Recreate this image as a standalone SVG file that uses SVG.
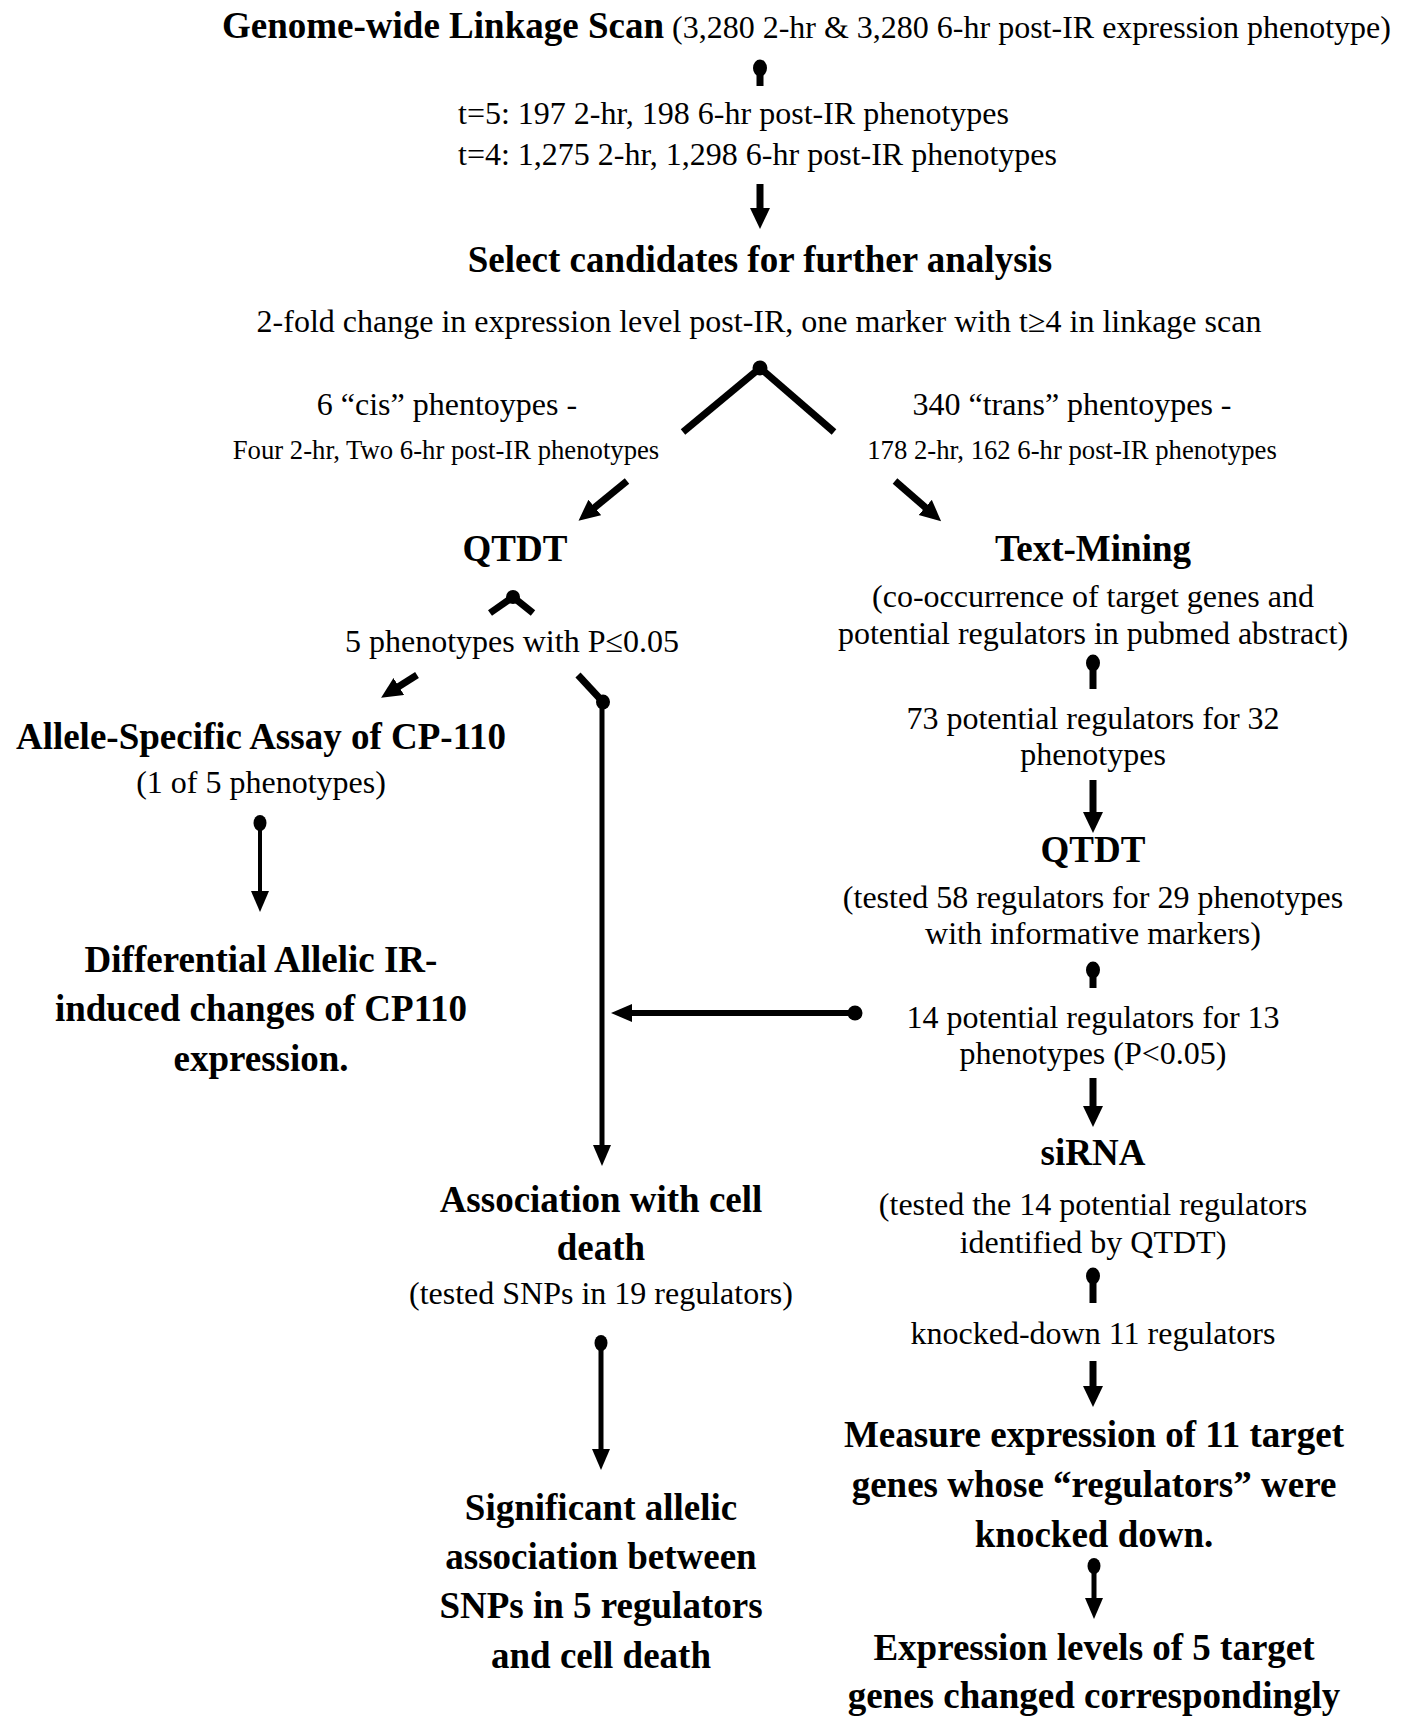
<svg xmlns="http://www.w3.org/2000/svg" width="1407" height="1716" viewBox="0 0 1407 1716">
<style>
text{font-family:"Liberation Serif","Times New Roman",serif;fill:#000}
.b{font-weight:bold;font-size:37px}
.n{font-size:32px}
.s{font-size:26.7px}
.c{text-anchor:middle}
.ln{stroke:#000;fill:none;stroke-linecap:butt}
.w7{stroke-width:7}
.w6{stroke-width:6}
.w5{stroke-width:5}
.w4{stroke-width:4}
.ball{fill:#000}
</style>
<defs>
<marker id="ah" markerUnits="userSpaceOnUse" markerWidth="22" markerHeight="22" refX="1" refY="10" orient="auto">
<path d="M0,0 L21,10 L0,20 z" fill="#000"/>
</marker>
<marker id="ahs" markerUnits="userSpaceOnUse" markerWidth="22" markerHeight="20" refX="1" refY="9" orient="auto">
<path d="M0,0 L21,9 L0,18 z" fill="#000"/>
</marker>
</defs>
<rect width="1407" height="1716" fill="#fff"/>

<g id="connectors">
<ellipse class="ball" cx="760" cy="68" rx="7" ry="8.5"/>
<line class="ln w7" x1="760" y1="68" x2="760" y2="86"/>
<line class="ln w7" x1="760" y1="184" x2="760" y2="209" marker-end="url(#ah)"/>

<ellipse class="ball" cx="760" cy="368" rx="7.5" ry="7.5"/>
<line class="ln w7" x1="760" y1="368" x2="683" y2="432"/>
<line class="ln w7" x1="760" y1="368" x2="834" y2="432"/>
<line class="ln w7" x1="627" y1="481" x2="594" y2="508" marker-end="url(#ah)"/>
<line class="ln w7" x1="895" y1="481" x2="926" y2="508" marker-end="url(#ah)"/>

<ellipse class="ball" cx="513" cy="597" rx="7" ry="7"/>
<line class="ln w7" x1="513" y1="597" x2="490" y2="613"/>
<line class="ln w7" x1="513" y1="597" x2="533" y2="613"/>
<line class="ln w7" x1="417" y1="675" x2="398" y2="687" marker-end="url(#ah)"/>
<line class="ln w7" x1="578" y1="675" x2="603" y2="702"/>
<ellipse class="ball" cx="603" cy="702" rx="7" ry="7.5"/>
<line class="ln w5" x1="602" y1="702" x2="602" y2="1146" marker-end="url(#ahs)"/>

<ellipse class="ball" cx="855" cy="1013" rx="7.5" ry="7.5"/>
<line class="ln w6" x1="855" y1="1013" x2="631" y2="1013" marker-end="url(#ahs)"/>

<ellipse class="ball" cx="260" cy="823" rx="6.5" ry="8"/>
<line class="ln w4" x1="260" y1="823" x2="260" y2="892" marker-end="url(#ahs)"/>

<ellipse class="ball" cx="1093" cy="663" rx="7" ry="8.5"/>
<line class="ln w7" x1="1093" y1="663" x2="1093" y2="689"/>
<line class="ln w7" x1="1093" y1="780" x2="1093" y2="813" marker-end="url(#ah)"/>
<ellipse class="ball" cx="1093" cy="970" rx="7" ry="8.5"/>
<line class="ln w7" x1="1093" y1="970" x2="1093" y2="988"/>
<line class="ln w7" x1="1093" y1="1078" x2="1093" y2="1107" marker-end="url(#ah)"/>
<ellipse class="ball" cx="1093" cy="1276" rx="7" ry="8.5"/>
<line class="ln w7" x1="1093" y1="1276" x2="1093" y2="1303"/>
<line class="ln w7" x1="1093" y1="1361" x2="1093" y2="1387" marker-end="url(#ah)"/>
<ellipse class="ball" cx="1094" cy="1566" rx="6.5" ry="8"/>
<line class="ln w5" x1="1094" y1="1566" x2="1094" y2="1599" marker-end="url(#ahs)"/>

<ellipse class="ball" cx="601" cy="1343" rx="6.5" ry="8"/>
<line class="ln w5" x1="601" y1="1343" x2="601" y2="1450" marker-end="url(#ahs)"/>
</g>

<g id="n-genome"><text x="222" y="38"><tspan class="b">Genome-wide Linkage Scan</tspan><tspan class="n"> (3,280 2-hr &amp; 3,280 6-hr post-IR expression phenotype)</tspan></text></g>
<g id="n-threshold">
<text class="n" x="458" y="124">t=5: 197 2-hr, 198 6-hr post-IR phenotypes</text>
<text class="n" x="458" y="165">t=4: 1,275 2-hr, 1,298 6-hr post-IR phenotypes</text>
</g>
<g id="n-select">
<text class="b c" x="760" y="272">Select candidates for further analysis</text>
<text class="n c" x="759" y="332">2-fold change in expression level post-IR, one marker with t≥4 in linkage scan</text>
</g>
<g id="n-cis">
<text class="n c" x="447" y="415">6 “cis” phentoypes -</text>
<text class="s c" x="446" y="459">Four 2-hr, Two 6-hr post-IR phenotypes</text>
</g>
<g id="n-trans">
<text class="n c" x="1072" y="415">340 “trans” phentoypes -</text>
<text class="s c" x="1072" y="459">178 2-hr, 162 6-hr post-IR phenotypes</text>
</g>
<g id="n-qtdt1"><text class="b c" x="515" y="561">QTDT</text></g>
<g id="n-five"><text class="n c" x="512" y="652">5 phenotypes with P≤0.05</text></g>
<g id="n-allele">
<text class="b c" x="261" y="749">Allele-Specific Assay of CP-110</text>
<text class="n c" x="261" y="793">(1 of 5 phenotypes)</text>
</g>
<g id="n-differential">
<text class="b c" x="261" y="972">Differential Allelic IR-</text>
<text class="b c" x="261" y="1021">induced changes of CP110</text>
<text class="b c" x="261" y="1071">expression.</text>
</g>
<g id="n-association">
<text class="b c" x="601" y="1212">Association with cell</text>
<text class="b c" x="601" y="1260">death</text>
<text class="n c" x="601" y="1304">(tested SNPs in 19 regulators)</text>
</g>
<g id="n-significant">
<text class="b c" x="601" y="1520">Significant allelic</text>
<text class="b c" x="601" y="1569">association between</text>
<text class="b c" x="601" y="1618">SNPs in 5 regulators</text>
<text class="b c" x="601" y="1668">and cell death</text>
</g>
<g id="n-textmining">
<text class="b c" x="1093" y="561">Text-Mining</text>
<text class="n c" x="1093" y="607">(co-occurrence of target genes and</text>
<text class="n c" x="1093" y="644">potential regulators in pubmed abstract)</text>
</g>
<g id="n-73">
<text class="n c" x="1093" y="729">73 potential regulators for 32</text>
<text class="n c" x="1093" y="765">phenotypes</text>
</g>
<g id="n-qtdt2">
<text class="b c" x="1093" y="862">QTDT</text>
<text class="n c" x="1093" y="908">(tested 58 regulators for 29 phenotypes</text>
<text class="n c" x="1093" y="944">with informative markers)</text>
</g>
<g id="n-14">
<text class="n c" x="1093" y="1028">14 potential regulators for 13</text>
<text class="n c" x="1093" y="1064">phenotypes (P&lt;0.05)</text>
</g>
<g id="n-sirna">
<text class="b c" x="1093" y="1165">siRNA</text>
<text class="n c" x="1093" y="1215">(tested the 14 potential regulators</text>
<text class="n c" x="1093" y="1253">identified by QTDT)</text>
</g>
<g id="n-knocked"><text class="n c" x="1093" y="1344">knocked-down 11 regulators</text></g>
<g id="n-measure">
<text class="b c" x="1094" y="1447">Measure expression of 11 target</text>
<text class="b c" x="1094" y="1497">genes whose “regulators” were</text>
<text class="b c" x="1094" y="1547">knocked down.</text>
</g>
<g id="n-expression">
<text class="b c" x="1094" y="1660">Expression levels of 5 target</text>
<text class="b c" x="1094" y="1708">genes changed correspondingly</text>
</g>
</svg>
